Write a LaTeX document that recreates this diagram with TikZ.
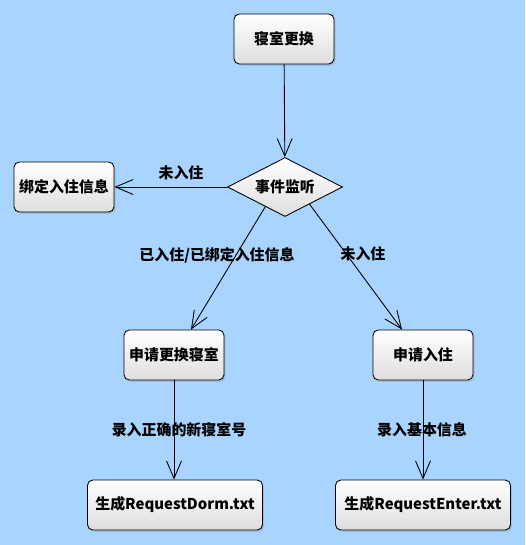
\documentclass[tikz,border=0pt]{standalone}
\usepackage{fontspec}
\setmainfont{Noto Sans CJK SC}
\usetikzlibrary{arrows.meta, shapes.geometric, shadows}
\definecolor{bgblue}{RGB}{168,212,255}
\definecolor{boxgray}{RGB}{222,222,222}

\begin{document}
\begin{tikzpicture}[x=0.02cm, y=-0.02cm,
  font=\fontsize{8.5}{10}\selectfont\bfseries,
  state/.style={draw, rounded corners=3pt, line width=0.5pt,
    top color=white, bottom color=boxgray,
    drop shadow={opacity=0.25, shadow xshift=1pt, shadow yshift=-1pt},
    minimum width=2cm, minimum height=1cm, inner sep=2pt},
  filebox/.style={state, minimum width=3.5cm},
  choice/.style={draw, diamond, aspect=2, line width=0.5pt,
    top color=white, bottom color=boxgray,
    minimum width=2.3cm, minimum height=1.18cm, inner sep=0pt},
  flow/.style={-{Straight Barb[length=10pt, width=8.5pt]}, line width=0.5pt},
  guard/.style={inner sep=1pt}]

% Fundo
\fill[bgblue] (0,0) rectangle (525,545);
\useasboundingbox (0,0) rectangle (525,545);

% Estados
\node[state] (swap) at (284,39) {寝室更换};
\node[choice] (listen) at (285,187) {事件监听};
\node[state] (bind) at (64,187) {绑定入住信息};
\node[state] (change) at (174,355) {申请更换寝室};
\node[state] (enter) at (423,355) {申请入住};
\node[filebox] (dormfile) at (175,505) {生成RequestDorm.txt};
\node[filebox] (enterfile) at (423,505) {生成RequestEnter.txt};

% Transicoes
\draw[flow] (swap) -- (listen);
\draw[flow] (listen) -- (bind);
\draw[flow] (listen.225) -- ([xshift=0.34cm]change.north);
\draw[flow] (listen.-35) -- ([xshift=-0.42cm]enter.north);
\draw[flow] (change) -- (change |- dormfile.north);
\draw[flow] (enter) -- (enter |- enterfile.north);

% Condicoes
\node[guard] (notin) at (181,173) {未入住};
\node[guard] (bound) at (217,255) {已入住/已绑定入住信息};
\node[guard] (notin2) at (363,254) {未入住};
\node[guard] (newroom) at (179,430) {录入正确的新寝室号};
\node[guard] (basic) at (422,430) {录入基本信息};

\end{tikzpicture}
\end{document}
